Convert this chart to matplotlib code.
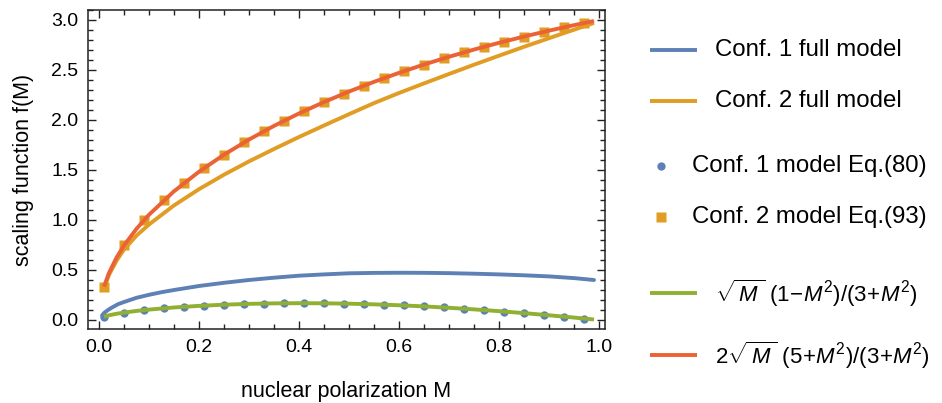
import matplotlib
matplotlib.use("Agg")
import matplotlib.pyplot as plt
from matplotlib.lines import Line2D
from matplotlib.ticker import MultipleLocator, FormatStrFormatter

plt.rcParams['font.family'] = ['Liberation Sans', 'DejaVu Sans']
plt.rcParams['mathtext.fontset'] = 'custom'
plt.rcParams['mathtext.rm'] = 'Liberation Sans'
plt.rcParams['mathtext.it'] = 'Liberation Sans:italic'

# ---- data ----
M_blue_full = [0.006, 0.01, 0.018, 0.025, 0.038, 0.05, 0.075, 0.1, 0.125, 0.15, 0.2, 0.25, 0.3, 0.35,
               0.4, 0.45, 0.5, 0.55, 0.6, 0.65, 0.7, 0.75, 0.8, 0.85, 0.9, 0.95, 0.99]
f_blue_full = [0.045, 0.07, 0.10, 0.122, 0.158, 0.18, 0.222, 0.252, 0.278, 0.300, 0.340, 0.372, 0.400,
               0.423, 0.443, 0.456, 0.467, 0.471, 0.4725, 0.4716, 0.4685, 0.463, 0.456, 0.447,
               0.436, 0.419, 0.400]

M_orange_full = [0.01, 0.02, 0.035, 0.05, 0.075, 0.1, 0.15, 0.2, 0.25, 0.3, 0.35, 0.4, 0.45,
                 0.5, 0.55, 0.6, 0.65, 0.7, 0.75, 0.8, 0.85, 0.9, 0.95, 0.99]
f_orange_full = [0.32, 0.451, 0.593, 0.704, 0.844, 0.955, 1.146, 1.308, 1.453, 1.586, 1.710, 1.830, 1.945,
                 2.058, 2.169, 2.270, 2.366, 2.460, 2.553, 2.643, 2.732, 2.818, 2.903, 2.970]

M_pts = [0.01, 0.05, 0.09, 0.13, 0.17, 0.21, 0.25, 0.29, 0.33, 0.37, 0.41, 0.45, 0.49,
         0.53, 0.57, 0.61, 0.65, 0.69, 0.73, 0.77, 0.81, 0.85, 0.89, 0.93, 0.97]
f_conf1_eq80 = [0.0333, 0.0743, 0.0989, 0.1175, 0.1322, 0.1439, 0.1531, 0.1599, 0.1647, 0.1674, 0.1681,
                0.1671, 0.1642, 0.1596, 0.1533, 0.1454, 0.1360, 0.1252, 0.1130, 0.0994, 0.0847,
                0.0687, 0.0517, 0.0337, 0.0148]
f_conf2_eq93 = [0.3333, 0.7451, 0.9989, 1.1992, 1.3691, 1.5187, 1.6531, 1.7755, 1.8880, 1.9922, 2.0890,
                2.1795, 2.2642, 2.3436, 2.4182, 2.4885, 2.5548, 2.6172, 2.6762, 2.7319, 2.7846,
                2.8346, 2.8819, 2.9268, 2.9694]

M_curve = [0.01, 0.02, 0.035, 0.05, 0.075, 0.1, 0.15, 0.2, 0.25, 0.3, 0.35, 0.4, 0.45,
           0.5, 0.55, 0.6, 0.65, 0.7, 0.75, 0.8, 0.85, 0.9, 0.95, 0.99]
f_green = [0.03333, 0.04712, 0.06226, 0.07429, 0.09060, 0.10401, 0.12525, 0.14123, 0.15306, 0.16130,
           0.16626, 0.16812, 0.16705, 0.16318, 0.15663, 0.14754, 0.13604, 0.12226, 0.10635,
           0.08846, 0.06873, 0.04731, 0.02435, 0.00497]
f_red = [0.33333, 0.47137, 0.62349, 0.74512, 0.91219, 1.05268, 1.28716, 1.48286, 1.65306, 1.80448,
         1.94108, 2.06549, 2.17950, 2.28451, 2.38148, 2.47138, 2.55475, 2.63223, 2.70441,
         2.77175, 2.83460, 2.89336, 2.94841, 2.98992]

labels = ["Conf. 1 full model", "Conf. 2 full model", "Conf. 1 model Eq.(80)",
          "Conf. 2 model Eq.(93)",
          r"$\sqrt{\,M\,}\ (1\!-\!M^{2})/(3\!+\!M^{2})$",
          r"$2\sqrt{\,M\,}\ (5\!+\!M^{2})/(3\!+\!M^{2})$"]

C_BLUE = '#5E81B5'
C_ORANGE = '#E19C24'
C_GREEN = '#8FB032'
C_RED = '#EB6235'

fig = plt.figure(figsize=(9.42, 4.03), dpi=100)
ax = fig.add_axes([88/942, 74/403, 517/942, 319/403])

LW = 2.8
ax.plot(M_blue_full, f_blue_full, color=C_BLUE, lw=LW, solid_capstyle='round', zorder=2)
ax.plot(M_orange_full, f_orange_full, color=C_ORANGE, lw=LW, solid_capstyle='butt', zorder=2)
ax.plot(M_pts, f_conf1_eq80, 'o', color=C_BLUE, ms=6, mec='none', zorder=3)
ax.plot(M_pts, f_conf2_eq93, 's', color=C_ORANGE, ms=7, mec='none', zorder=3)
ax.plot(M_curve, f_green, color=C_GREEN, lw=LW, solid_capstyle='butt', zorder=4)
ax.plot(M_curve, f_red, color=C_RED, lw=LW, solid_capstyle='butt', zorder=4)

ax.set_xlim(-0.022, 1.012)
ax.set_ylim(-0.09, 3.1)
ax.xaxis.set_major_locator(MultipleLocator(0.2))
ax.xaxis.set_minor_locator(MultipleLocator(0.05))
ax.yaxis.set_major_locator(MultipleLocator(0.5))
ax.yaxis.set_minor_locator(MultipleLocator(0.1))
ax.xaxis.set_major_formatter(FormatStrFormatter('%.1f'))
ax.yaxis.set_major_formatter(FormatStrFormatter('%.1f'))
ax.tick_params(which='both', direction='in', top=True, right=True, width=1, color='#222222')
ax.tick_params(which='major', length=6, labelsize=14, pad=7)
ax.tick_params(which='minor', length=3.5)
for s in ax.spines.values():
    s.set_linewidth(1.1)
    s.set_color('#222222')
ax.set_xlabel("nuclear polarization M", fontsize=15.5, labelpad=18)
ax.set_ylabel("scaling function f(M)", fontsize=15.5, labelpad=12)

# legend drawn manually in figure pixel coordinates
lax = fig.add_axes([0, 0, 1, 1], facecolor='none')
lax.set_xlim(0, 942)
lax.set_ylim(403, 0)
lax.axis('off')
legend_rows = [
    ('line', C_BLUE, 50, 715, 17.3),
    ('line', C_ORANGE, 101, 715, 17.3),
    ('o', C_BLUE, 166, 692, 17.3),
    ('s', C_ORANGE, 217, 692, 17.3),
    ('line', C_GREEN, 293, 715, 16),
    ('line', C_RED, 355, 715, 16),
]
for (kind, col, y, tx, fs), lab in zip(legend_rows, labels):
    if kind == 'line':
        lax.add_line(Line2D([650, 697], [y, y], color=col, lw=LW, solid_capstyle='butt'))
    else:
        lax.add_line(Line2D([661], [y], marker=kind, color=col, ms=6 if kind == 'o' else 6.5,
                            mec='none', ls='none'))
    lax.text(tx, y, lab, fontsize=fs, va='center', ha='left', color='black')

fig.savefig("out.png", dpi=100)
